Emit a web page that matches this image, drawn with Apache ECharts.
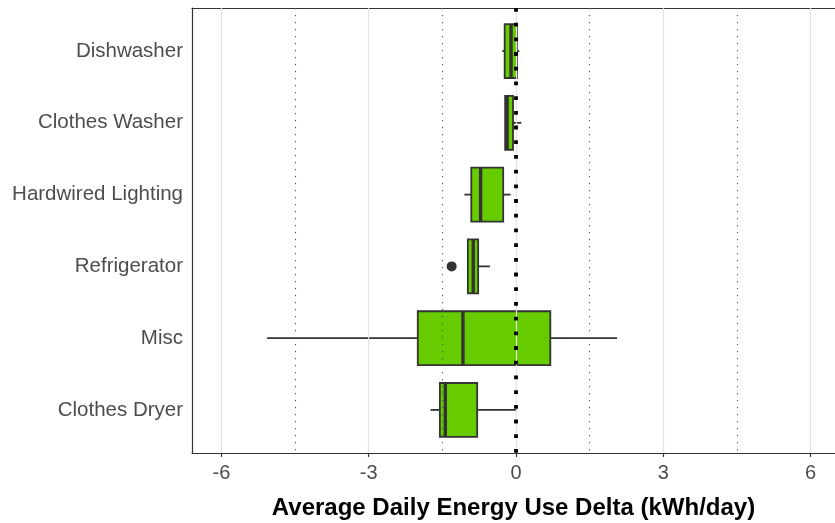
<!DOCTYPE html>
<html>
<head>
<meta charset="utf-8">
<script src="https://cdn.jsdelivr.net/npm/echarts@6/dist/echarts.min.js"></script>
<style>
  html, body { margin: 0; padding: 0; background: #fff; }
  #chart { width: 835px; height: 523px; }
</style>
</head>
<body>
<div id="chart"></div>
<script>
// Appliance categories, top to bottom
const categories = ['Dishwasher', 'Clothes Washer', 'Hardwired Lighting', 'Refrigerator', 'Misc', 'Clothes Dryer'];
// Five-number summaries (kWh/day)
const whiskerLow  = [-0.28, -0.22, -1.05, -0.98, -5.07, -1.74];
const quartile1   = [-0.23, -0.22, -0.91, -0.98, -2.00, -1.55];
const medians     = [-0.10, -0.18, -0.72, -0.87, -1.08, -1.44];
const quartile3   = [ 0.02, -0.06, -0.26, -0.77,  0.70, -0.79];
const whiskerHigh = [ 0.07,  0.11, -0.11, -0.53,  2.06,  0.00];
// Outlying points: [value, category]
const outliers = [[-1.31, 'Refrigerator']];
// Axis ticks and reference lines
const xTicks = [-6, -3, 0, 3, 6];
const dottedRefs = [-4.5, -1.5, 1.5, 4.5];
const zeroRef = [0];

const boxData = categories.map((c, i) => [i + 1, whiskerLow[i], quartile1[i], medians[i], quartile3[i], whiskerHigh[i]]);
const outlierData = outliers.map(o => [o[0], categories.indexOf(o[1]) + 1]);

const dark = '#333333';
const boxFill = '#66CC00';
const font = 'Liberation Sans';

function renderBox(params, api) {
  const y = api.value(0);
  const lo = api.coord([api.value(1), y]);
  const q1 = api.coord([api.value(2), y]);
  const md = api.coord([api.value(3), y]);
  const q3 = api.coord([api.value(4), y]);
  const hi = api.coord([api.value(5), y]);
  const h = api.size([0, 0.75])[1];
  const cy = q1[1];
  return {
    type: 'group',
    children: [
      { type: 'line', shape: { x1: lo[0], y1: cy, x2: q1[0], y2: cy }, style: { stroke: dark, lineWidth: 1.8 } },
      { type: 'line', shape: { x1: q3[0], y1: cy, x2: hi[0], y2: cy }, style: { stroke: dark, lineWidth: 1.8 } },
      { type: 'rect', shape: { x: q1[0], y: cy - h / 2, width: q3[0] - q1[0], height: h },
        style: { fill: boxFill, stroke: dark, lineWidth: 1.8 } },
      { type: 'line', shape: { x1: md[0], y1: cy - h / 2, x2: md[0], y2: cy + h / 2 }, style: { stroke: dark, lineWidth: 3.4 } }
    ]
  };
}

const chart = echarts.init(document.getElementById('chart'), null, { renderer: 'canvas' });
chart.setOption({
  animation: false,
  backgroundColor: '#ffffff',
  grid: { left: 192, right: 0, top: 8, bottom: 70, show: false, containLabel: false, outerBoundsMode: 'none' },
  xAxis: [
    {
      type: 'value',
      min: -6.6,
      max: 6.5,
      name: 'Average Daily Energy Use Delta (kWh/day)',
      nameLocation: 'middle',
      nameGap: 43,
      nameTextStyle: { fontFamily: font, fontSize: 24, fontWeight: 'bold', color: '#000' },
      axisLine: { show: true, onZero: false, lineStyle: { color: dark, width: 1.2 } },
      axisTick: { show: true, customValues: xTicks, length: 4, lineStyle: { color: dark, width: 1.2 } },
      axisLabel: { customValues: xTicks, fontFamily: font, fontSize: 20, color: '#4d4d4d', margin: 10 },
      splitLine: { show: false }
    },
    {
      // top edge of the panel
      type: 'value',
      position: 'top',
      min: -6.6,
      max: 6.5,
      axisLine: { show: true, onZero: false, lineStyle: { color: dark, width: 1.2 } },
      axisTick: { show: false },
      axisLabel: { show: false },
      splitLine: { show: false }
    }
  ],
  yAxis: {
    type: 'value',
    min: 0.4,
    max: 6.6,
    inverse: true,
    axisLine: { show: true, onZero: false, lineStyle: { color: dark, width: 1.2 } },
    axisTick: { show: false },
    axisLabel: {
      customValues: categories.map((c, i) => i + 1),
      formatter: v => categories[Math.round(v) - 1] || '',
      fontFamily: font, fontSize: 20.5, color: '#4d4d4d', margin: 9,
      padding: [4, 0, 0, 0]
    },
    splitLine: { show: false }
  },
  series: [
    {
      type: 'line',
      data: [],
      silent: true,
      z: 1,
      markLine: {
        silent: true,
        symbol: 'none',
        label: { show: false },
        animation: false,
        data: xTicks.map(v => ({ xAxis: v, lineStyle: { color: '#e3e3e3', width: 1.2, type: 'solid' } }))
          .concat(dottedRefs.map(v => ({ xAxis: v, lineStyle: { color: '#555', width: 1.1, type: [1.2, 5.8] } })))
      }
    },
    {
      type: 'custom',
      renderItem: renderBox,
      data: boxData,
      encode: { x: [1, 2, 3, 4, 5], y: 0 },
      z: 3
    },
    {
      type: 'scatter',
      data: outlierData,
      symbolSize: 10,
      itemStyle: { color: dark, opacity: 1 },
      z: 4,
      markLine: {
        silent: true,
        symbol: 'none',
        label: { show: false },
        animation: false,
        data: zeroRef.map(v => ({ xAxis: v, lineStyle: { color: '#000', width: 3.8, type: [3.8, 10.9], cap: 'butt' } }))
      }
    }
  ]
});
</script>
</body>
</html>
